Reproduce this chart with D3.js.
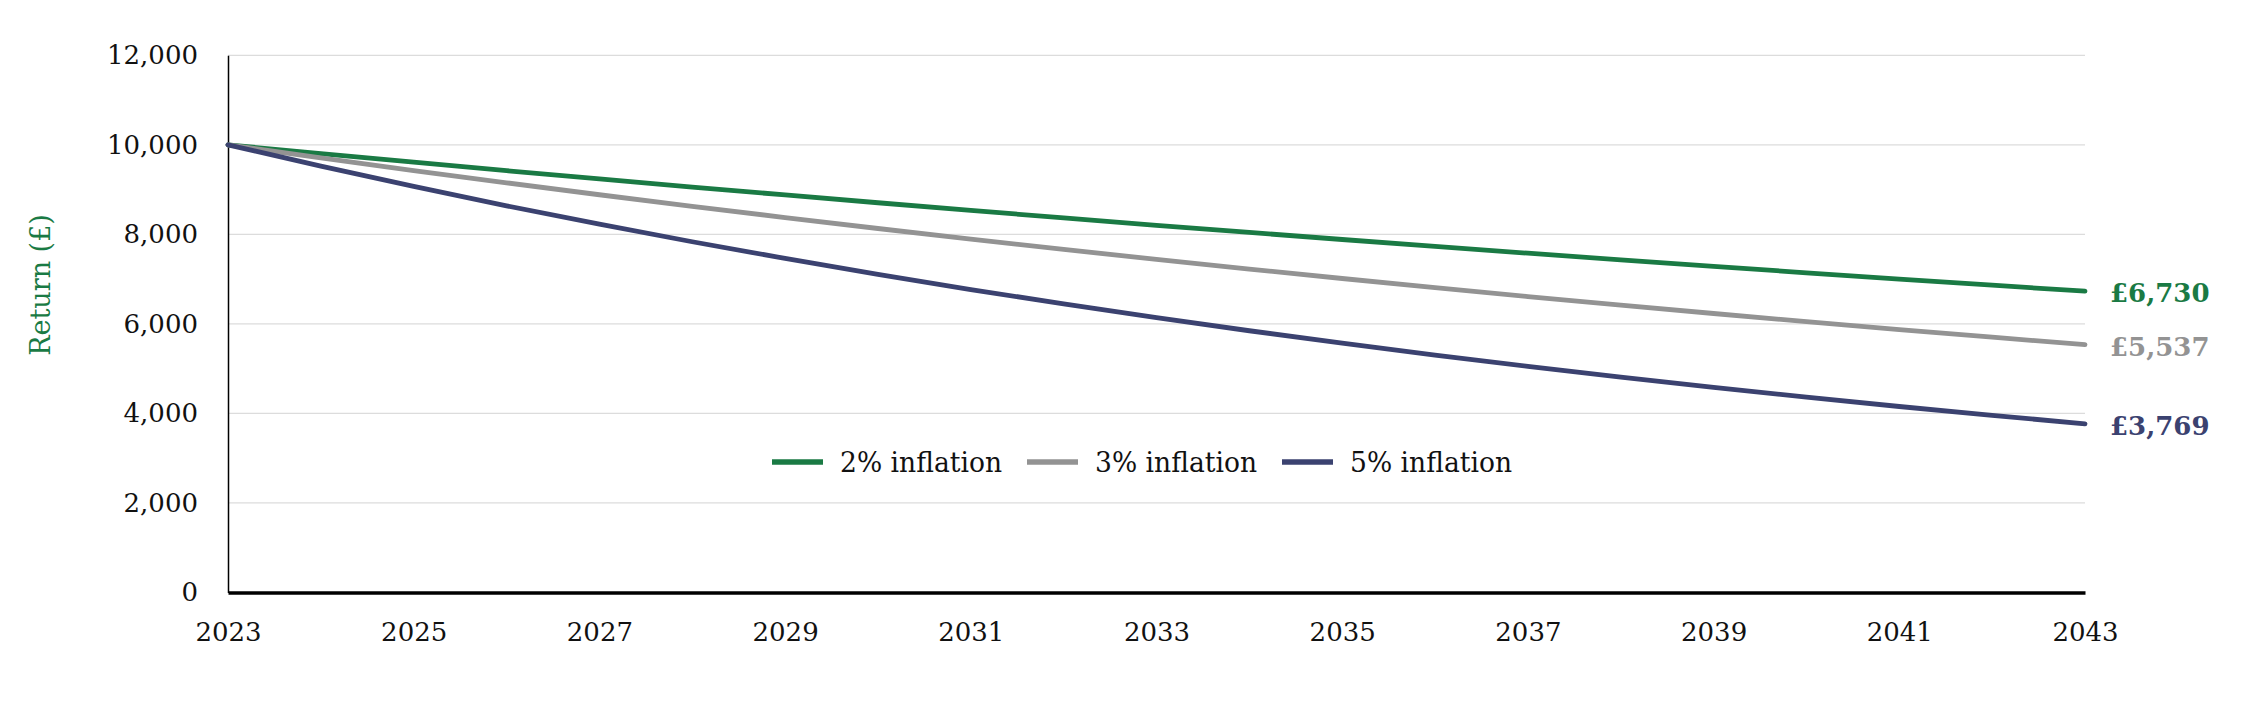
<!DOCTYPE html>
<html><head><meta charset="utf-8">
<script src="https://cdn.jsdelivr.net/npm/d3@7"></script>
<style>body{margin:0;background:#fff}svg{display:block}</style>
</head><body>
<script>
const years = d3.range(2023, 2044);
const xTickYears = [2023,2025,2027,2029,2031,2033,2035,2037,2039,2041,2043];
const yTicks = [0,2000,4000,6000,8000,10000,12000];
const seriesNames = ["2% inflation","3% inflation","5% inflation"];
const seriesColors = ["#1a7a44","#939393","#3b4270"];
const inf2 = [10000,9804,9612,9423,9238,9057,8880,8706,8535,8368,8203,8043,7885,7730,7579,7430,7284,7142,7002,6864,6730];
const inf3 = [10000,9709,9426,9151,8885,8626,8375,8131,7894,7664,7441,7224,7014,6810,6611,6419,6232,6050,5874,5703,5537];
const inf5 = [10000,9524,9070,8638,8227,7835,7462,7107,6768,6446,6139,5847,5568,5303,5051,4810,4581,4363,4155,3957,3769];
const endLabels = ["£6,730","£5,537","£3,769"];
const yTitle = "Return (£)";

const W=2250,H=704;
const font = "'DejaVu Serif', serif";
const svg = d3.select("body").append("svg").attr("width",W).attr("height",H);
const x = d3.scaleLinear().domain([2023,2043]).range([228,2085]);
const y = d3.scaleLinear().domain([0,12000]).range([592.5,55.3]);

// gridlines
svg.append("g").selectAll("line").data(yTicks.filter(d=>d>0)).join("line")
  .attr("x1",x(2023)).attr("x2",x(2043)).attr("y1",d=>y(d)).attr("y2",d=>y(d))
  .attr("stroke","#dcdcdc").attr("stroke-width",1.2);

// y axis
const ya = svg.append("g").attr("transform",`translate(${x(2023)},0)`)
  .call(d3.axisLeft(y).tickValues(yTicks).tickSize(0).tickPadding(30).tickFormat(d3.format(",")));
ya.select(".domain").attr("stroke","#000").attr("stroke-width",1.5);
ya.selectAll("text").attr("font-family",font).attr("font-size",26).attr("fill","#111");

// x axis
const xa = svg.append("g").attr("transform",`translate(0,${y(0)})`)
  .call(d3.axisBottom(x).tickValues(xTickYears).tickSize(0).tickPadding(30).tickFormat(d3.format("d")));
xa.select(".domain").attr("stroke","#000").attr("stroke-width",3.5);
xa.selectAll("text").attr("font-family",font).attr("font-size",26).attr("fill","#111");

// y title
svg.append("text").attr("transform",`translate(40,285) rotate(-90)`)
  .attr("text-anchor","middle").attr("dominant-baseline","central")
  .attr("font-family",font).attr("font-size",27).attr("fill","#1a7a44").text(yTitle);

// lines
const allSeries = [inf2, inf3, inf5];
const line = d3.line().x((d,i)=>x(years[i])).y(d=>y(d));
allSeries.forEach((s,k)=>{
  svg.append("path").datum(s).attr("d",line).attr("fill","none")
    .attr("stroke",seriesColors[k]).attr("stroke-width",4.8).attr("stroke-linecap","round");
  svg.append("text").attr("x",x(2043)+25).attr("y",y(s[s.length-1])+2)
    .attr("dominant-baseline","central").attr("font-family",font).attr("font-weight","bold")
    .attr("font-size",26).attr("fill",seriesColors[k]).text(endLabels[k]);
});

// legend
const legX = [772,1027,1282];
seriesNames.forEach((n,k)=>{
  const g = svg.append("g").attr("transform",`translate(${legX[k]},462)`);
  g.append("line").attr("x1",0).attr("x2",51).attr("stroke",seriesColors[k]).attr("stroke-width",5.5);
  g.append("text").attr("x",68).attr("y",0).attr("dominant-baseline","central")
    .attr("font-family",font).attr("textLength",162).attr("lengthAdjust","spacingAndGlyphs")
    .attr("font-size",27).attr("fill","#111").text(n);
});
</script>
</body></html>
